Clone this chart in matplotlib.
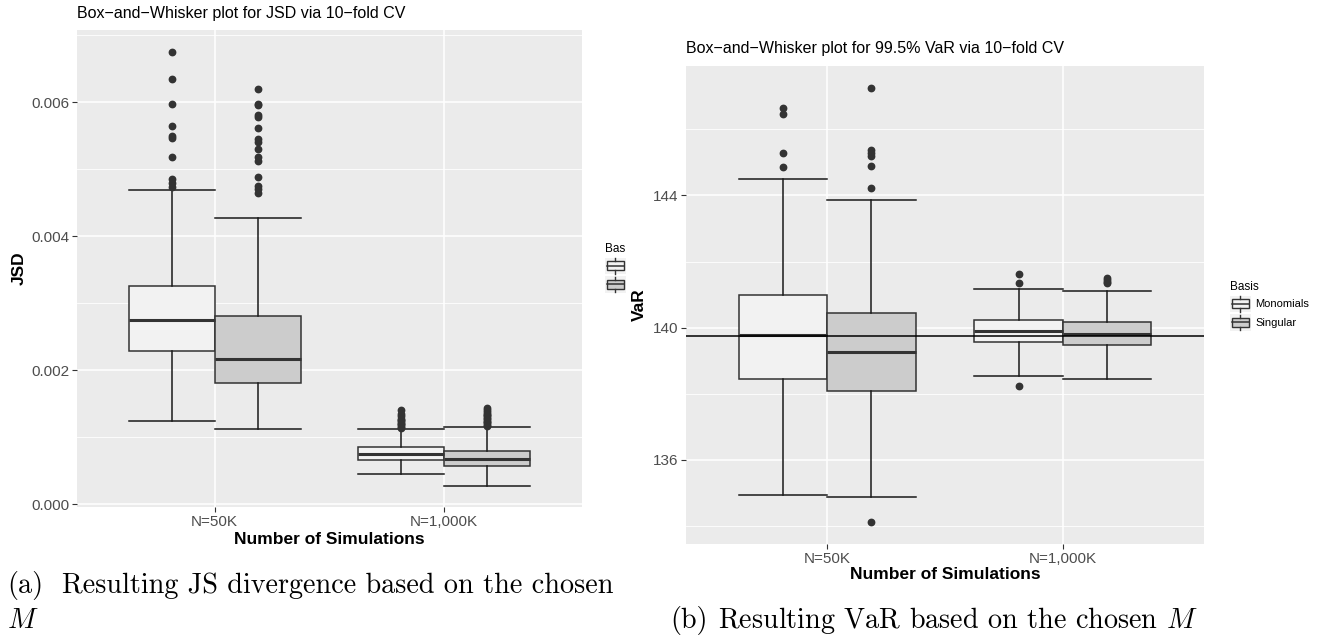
import matplotlib
matplotlib.use("Agg")
import matplotlib.pyplot as plt
from matplotlib.patches import Rectangle
from matplotlib.lines import Line2D
from matplotlib.legend_handler import HandlerBase
from matplotlib.ticker import MultipleLocator

plt.rcParams['font.family'] = ['Liberation Sans', 'DejaVu Sans']
plt.rcParams['mathtext.fontset'] = 'cm'

# ---- data ----
categories = ["N=50K", "N=1,000K"]
bases = ["Monomials", "Singular"]

# JSD: [whisker low, Q1, median, Q3, whisker high] per category
jsd_mono = [[0.00125, 0.00228, 0.00275, 0.00325, 0.00469],
            [0.000449, 0.000663, 0.000758, 0.000848, 0.001118]]
jsd_sing = [[0.00112, 0.00181, 0.00217, 0.00281, 0.00427],
            [0.000274, 0.000569, 0.000669, 0.000798, 0.001157]]
jsd_mono_out = [[0.00675, 0.00635, 0.00597, 0.00565, 0.00550, 0.00546, 0.00518, 0.00485, 0.00480, 0.00474],
                [0.00114, 0.00116, 0.00118, 0.00120, 0.00122, 0.00124, 0.00126, 0.00128, 0.00131, 0.00134, 0.00140]]
jsd_sing_out = [[0.00620, 0.00597, 0.00595, 0.00580, 0.00577, 0.00561, 0.00545, 0.00541, 0.00530,
                 0.00518, 0.00512, 0.00488, 0.00475, 0.00470, 0.00465],
                [0.00117, 0.00119, 0.00121, 0.00123, 0.00125, 0.00127, 0.00129, 0.00131, 0.00133,
                 0.00135, 0.00138, 0.00141, 0.00144]]

# VaR 99.5%
var_mono = [[134.93, 138.45, 139.79, 140.99, 144.49],
            [138.53, 139.56, 139.91, 140.24, 141.18]]
var_sing = [[134.89, 138.09, 139.26, 140.43, 143.86],
            [138.45, 139.48, 139.82, 140.18, 141.11]]
var_mono_out = [[146.65, 146.45, 145.27, 144.85],
                [141.61, 141.34, 138.24]]
var_sing_out = [[147.24, 145.37, 145.29, 145.19, 144.89, 144.22, 134.14],
                [141.50, 141.44, 141.39, 141.34]]
var_ref = 139.75

jsd_ticks = [0.000, 0.002, 0.004, 0.006]
jsd_tick_labels = ["0.000", "0.002", "0.004", "0.006"]
var_ticks = [136, 140, 144]

fills = ["#F2F2F2", "#CCCCCC"]
edge = "#333333"


def stats(five, out):
    return [dict(whislo=f[0], q1=f[1], med=f[2], q3=f[3], whishi=f[4], fliers=o)
            for f, o in zip(five, out)]


class BoxKey(HandlerBase):
    def create_artists(self, legend, orig_handle, xdescent, ydescent, width, height, fontsize, trans):
        x0, y0 = -xdescent, -ydescent
        bg = Rectangle((x0, y0), width, height, facecolor="#F2F2F2", edgecolor="none", transform=trans)
        box = Rectangle((x0 + 0.1 * width, y0 + 0.22 * height), 0.8 * width, 0.56 * height,
                        facecolor=orig_handle.get_facecolor(), edgecolor=edge, lw=1.0, transform=trans)
        med = Line2D([x0 + 0.1 * width, x0 + 0.9 * width], [y0 + 0.5 * height] * 2,
                     color=edge, lw=1.1, transform=trans)
        wt = Line2D([x0 + 0.5 * width] * 2, [y0 + 0.78 * height, y0 + 0.97 * height],
                    color=edge, lw=1.0, transform=trans)
        wb = Line2D([x0 + 0.5 * width] * 2, [y0 + 0.03 * height, y0 + 0.22 * height],
                    color=edge, lw=1.0, transform=trans)
        return [bg, box, med, wt, wb]


def draw_panel(ax, groups, title, ylabel):
    ax.set_facecolor("#EBEBEB")
    for sp in ax.spines.values():
        sp.set_visible(False)
    ax.set_axisbelow(True)
    ax.grid(True, which="major", color="white", lw=1.1)
    ax.grid(True, which="minor", axis="y", color="white", lw=0.6)
    pos = range(1, len(categories) + 1)
    for k, (st, fc) in enumerate(zip(groups, fills)):
        off = -0.1875 if k == 0 else 0.1875
        ax.bxp(st, positions=[p + off for p in pos], widths=0.375, capwidths=0.375,
               patch_artist=True, manage_ticks=False,
               boxprops=dict(facecolor=fc, edgecolor=edge, lw=1.1),
               medianprops=dict(color=edge, lw=2.2),
               whiskerprops=dict(color="#1a1a1a", lw=1.1),
               capprops=dict(color="#1a1a1a", lw=1.1),
               flierprops=dict(marker="o", markersize=4.6, markerfacecolor=edge,
                               markeredgecolor=edge))
    ax.set_xlim(0.4, 2.6)
    ax.set_xticks(list(pos))
    ax.set_xticklabels(categories)
    ax.tick_params(axis="both", which="major", length=3.5, width=0.8, color="#333333",
                   labelcolor="#4D4D4D", labelsize=11, pad=2)
    ax.tick_params(axis="both", which="minor", length=0)
    ax.text(0, 1.0356, title, transform=ax.transAxes, va="center", ha="left", fontsize=11.5)
    ax.set_xlabel("Number of Simulations", fontsize=12.5, fontweight="bold")
    ax.set_ylabel(ylabel, fontsize=12.5, fontweight="bold")


fig = plt.figure(figsize=(13.2, 6.35), dpi=100)
W, H = 1320, 635

ax1 = fig.add_axes([77 / W, (H - 507) / H, 505 / W, 477 / H])
draw_panel(ax1, [stats(jsd_mono, jsd_mono_out), stats(jsd_sing, jsd_sing_out)],
           "Box\u2212and\u2212Whisker plot for JSD via 10\u2212fold CV", "JSD")
ax1.set_ylim(-0.00004, 0.007075)
ax1.set_yticks(jsd_ticks)
ax1.set_yticklabels(jsd_tick_labels)
ax1.yaxis.set_minor_locator(MultipleLocator(0.001))
ax1.yaxis.set_label_coords((27 - 77) / 505, 0.5)
ax1.xaxis.set_label_coords(0.5, (507 - 532) / 477)

handles = [Rectangle((0, 0), 1, 1, facecolor=fc) for fc in fills]
ax1.legend(handles, bases, title="Basis", handler_map={Rectangle: BoxKey()},
           loc="center left", bbox_to_anchor=(599 / W, (H - 268) / H),
           bbox_transform=fig.transFigure, frameon=False, fontsize=8,
           title_fontsize=8.5, handlelength=1.9, handleheight=1.9,
           handletextpad=0.4, labelspacing=0.2, borderpad=0, alignment="left")

# the right sub-figure covers the end of the left legend
fig.patches.append(Rectangle((626 / W, (H - 315) / H), 70 / W, 95 / H, transform=fig.transFigure,
                             facecolor="white", edgecolor="none", zorder=1))

ax2 = fig.add_axes([686 / W, (H - 544) / H, 518 / W, 478 / H], zorder=2)
draw_panel(ax2, [stats(var_mono, var_mono_out), stats(var_sing, var_sing_out)],
           "Box\u2212and\u2212Whisker plot for 99.5% VaR via 10\u2212fold CV", "VaR")
ax2.axhline(var_ref, color="black", lw=1.1, zorder=5)
ax2.set_ylim(133.46, 147.91)
ax2.set_yticks(var_ticks)
ax2.yaxis.set_minor_locator(MultipleLocator(2))
ax2.yaxis.set_label_coords((647 - 686) / 518, 0.5)
ax2.xaxis.set_label_coords(0.5, (544 - 567) / 478)
ax2.legend(handles, bases, title="Basis", handler_map={Rectangle: BoxKey()},
           loc="center left", bbox_to_anchor=(1224 / W, (H - 306) / H),
           bbox_transform=fig.transFigure, frameon=False, fontsize=8,
           title_fontsize=8.5, handlelength=1.9, handleheight=1.9,
           handletextpad=0.4, labelspacing=0.2, borderpad=0, alignment="left")

# captions
cap = dict(family="cmr10", fontsize=20.3, va="baseline", ha="left")
fig.text(7 / W, (H - 593) / H, "(a)", **cap)
fig.text(62 / W, (H - 593) / H, "Resulting JS divergence based on the chosen", **cap)
fig.text(7 / W, (H - 628) / H, "$M$", fontsize=20.3, va="baseline", ha="left")
fig.text(670 / W, (H - 628) / H, "(b)", **cap)
fig.text(718 / W, (H - 628) / H, "Resulting VaR based on the chosen $M$", **cap)

fig.savefig("out.png", dpi=100)
